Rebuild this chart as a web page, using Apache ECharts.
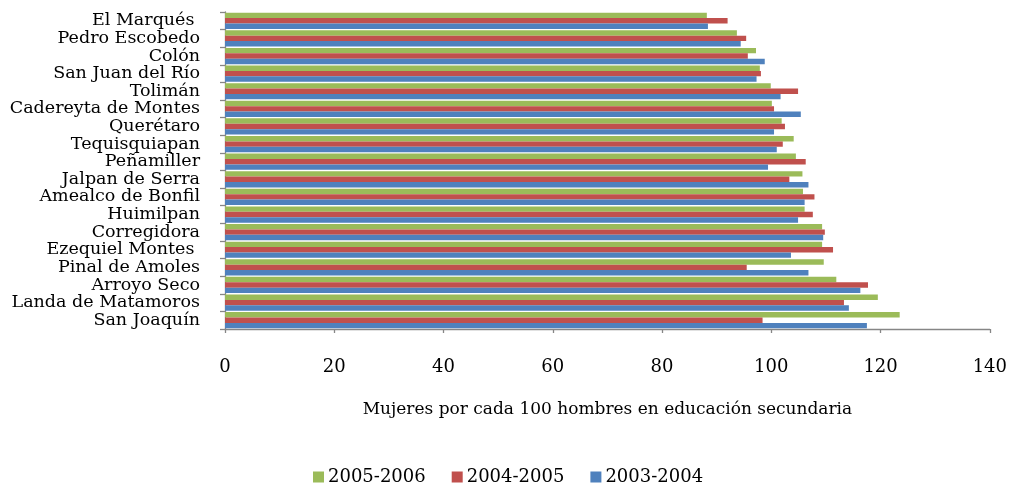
<!DOCTYPE html>
<html>
<head>
<meta charset="utf-8">
<script src="https://cdn.jsdelivr.net/npm/echarts@6/dist/echarts.min.js"></script>
<style>
html,body{margin:0;padding:0;background:#fff;}
#chart{width:1010px;height:484px;}
</style>
</head>
<body>
<div id="chart"></div>
<script>
const categories = ["El Marqués ", "Pedro Escobedo", "Colón", "San Juan del Río", "Tolimán", "Cadereyta de Montes", "Querétaro", "Tequisquiapan", "Peñamiller", "Jalpan de Serra", "Amealco de Bonfil", "Huimilpan", "Corregidora", "Ezequiel Montes ", "Pinal de Amoles", "Arroyo Seco", "Landa de Matamoros", "San Joaquín"];
const s2005_2006 = [88.2, 93.7, 97.2, 97.9, 99.9, 100.1, 101.9, 104.1, 104.5, 105.7, 105.8, 106.1, 109.3, 109.3, 109.6, 111.9, 119.5, 123.5];
const s2004_2005 = [92.0, 95.4, 95.7, 98.1, 104.9, 100.5, 102.5, 102.1, 106.3, 103.3, 107.9, 107.6, 109.8, 111.3, 95.5, 117.7, 113.3, 98.4];
const s2003_2004 = [88.4, 94.4, 98.8, 97.3, 101.7, 105.4, 100.5, 101.0, 99.4, 106.8, 106.1, 104.9, 109.5, 103.6, 106.8, 116.3, 114.2, 117.5];
const seriesNames = ["2005-2006", "2004-2005", "2003-2004"];
const xTicks = {min: 0, max: 140, interval: 20};
const axisTitle = "Mujeres por cada 100 hombres en educación secundaria";

const FONT = "DejaVu Serif";
const chart = echarts.init(document.getElementById('chart'), null, {renderer: 'canvas'});
const colors = ['#9BBB59', '#C0504D', '#4F81BD'];
const data = [s2005_2006, s2004_2005, s2003_2004];
chart.setOption({
  animation: false,
  color: colors,
  textStyle: {fontFamily: FONT, color: '#000'},
  grid: {left: 225, right: 18, top: 12, bottom: 155, containLabel: false},
  legend: {
    data: seriesNames,
    left: 308, top: 463,
    itemWidth: 11, itemHeight: 11, itemGap: 26,
    icon: 'rect',
    textStyle: {fontFamily: FONT, fontSize: 18, color: '#000', padding: [0,0,0,-1]}
  },
  xAxis: {
    type: 'value',
    min: xTicks.min, max: xTicks.max, interval: xTicks.interval,
    splitLine: {show: false},
    axisLine: {show: true, lineStyle: {color: '#868686', width: 1.3}},
    axisTick: {show: true, length: 4, lineStyle: {color: '#868686', width: 1.3}},
    axisLabel: {fontFamily: FONT, fontSize: 18, color: '#000', margin: 29},
    name: axisTitle,
    nameLocation: 'middle',
    nameGap: 72,
    nameTextStyle: {fontFamily: FONT, fontSize: 17, color: '#000', verticalAlign: 'top'}
  },
  yAxis: {
    type: 'category',
    data: categories,
    inverse: true,
    axisLine: {show: true, lineStyle: {color: '#868686', width: 1.3}},
    axisTick: {show: true, length: 5, lineStyle: {color: '#868686', width: 1.3}},
    axisLabel: {fontFamily: FONT, fontSize: 17.5, color: '#000', margin: 25, interval: 0, lineHeight: 17}
  },
  series: seriesNames.map((n, i) => ({
    name: n,
    type: 'bar',
    data: data[i],
    barGap: '0%',
    barCategoryGap: '8%',
    itemStyle: {color: colors[i]}
  }))
});
</script>
</body>
</html>
